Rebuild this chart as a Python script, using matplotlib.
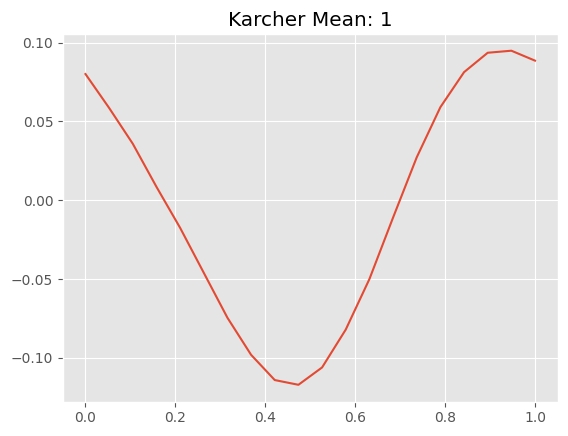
import numpy as np
import matplotlib
matplotlib.use("Agg")
import matplotlib.pyplot as plt

plt.style.use("ggplot")

# sample positions and karcher mean values
t = np.linspace(0, 1, 20)
karcher_mean = [0.080, 0.0585, 0.0358, 0.0085, -0.0175, -0.0460, -0.0745,
                -0.0980, -0.1140, -0.1170, -0.1060, -0.0820, -0.0500, -0.0110,
                0.0272, 0.0590, 0.0812, 0.0935, 0.0948, 0.0885]

fig = plt.figure(figsize=(5.68, 4.36), dpi=100)
ax = fig.add_axes([63 / 568, 34.5 / 436, 494.5 / 568, 367.5 / 436])
ax.plot(t, karcher_mean)
ax.set_title("Karcher Mean: 1")
fig.savefig("out.png", dpi=100)
